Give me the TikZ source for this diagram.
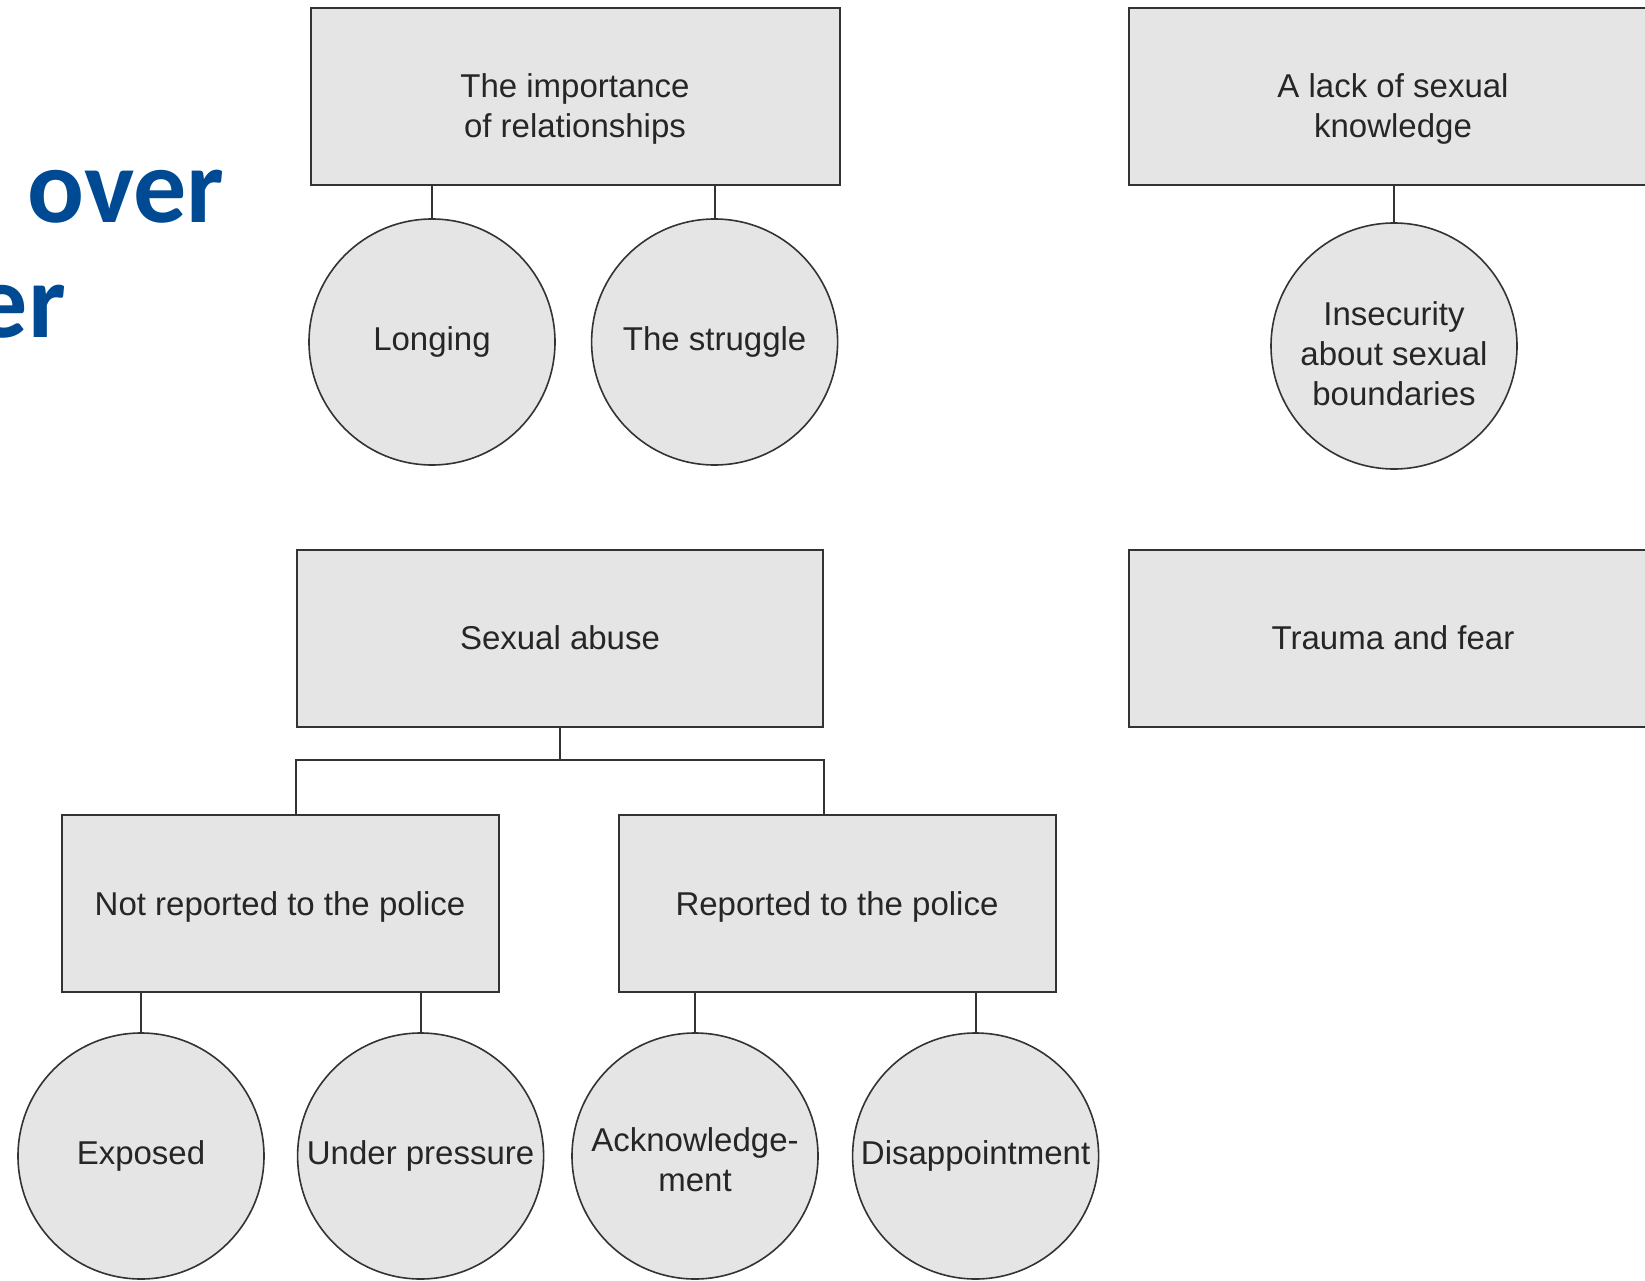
\documentclass[tikz,border=0pt]{standalone}
\usepackage{fontspec}
\setmainfont{Liberation Sans}
\newfontfamily\headfont{Carlito}
\usetikzlibrary{positioning}
\definecolor{headblue}{RGB}{0,74,147}
\definecolor{boxgray}{RGB}{229,229,229}

\begin{document}
\begin{tikzpicture}[x=1pt, y=-1pt,
    theme/.style={rectangle, draw=black!80, line width=2pt, fill=boxgray, minimum height=177pt, align=center, text=black!85, font=\fontsize{33}{40}\selectfont},
    bubble/.style={circle, draw=black!80, line width=1.6pt, fill=boxgray, minimum size=246pt, inner sep=0pt, align=center, text=black!85, font=\fontsize{33}{40}\selectfont},
    head/.style={text=headblue, inner sep=0pt, font=\headfont\bfseries\fontsize{106}{127}\selectfont},
    link/.style={draw=black!80, line width=2pt}]

\useasboundingbox (0,0) rectangle (1645,1281);
\clip (0,0) rectangle (1645,1281);

% cut-off heading on the left
\node[head, anchor=base west] (headA) at (27,223) {over};
\node[head, anchor=base east] (headB) at (66,337) {er};

% top row
\node[theme, minimum width=529pt, text height=87pt] (rel) at (575,97) {The importance\\of relationships};
\node[bubble] (longing) at (432,342) {Longing};
\node[bubble, right=35pt of longing] (struggle) {The struggle};

    \draw[link] (rel.south -| longing.north) -- (longing.north);
    \draw[link] (rel.south -| struggle.north) -- (struggle.north);

\node[theme, minimum width=528pt, text height=87pt] (know) at (1393,97) {A lack of sexual\\knowledge};
\node[bubble, text height=119pt] (insec) at (1394,346) {Insecurity\\about sexual\\boundaries};

    \draw[link] (know.south -| insec.north) -- (insec.north);

% lower half
\node[theme, minimum width=526pt] (abuse) at (560,638) {Sexual abuse};
\node[theme, minimum width=528pt] (trauma) at (1393,638) {Trauma and fear};

\node[theme, minimum width=437pt, text height=32pt] (notrep) at (280,903) {Not reported to the police};
\node[theme, minimum width=437pt, text height=32pt] (rep) at (837,903) {Reported to the police};

    \draw[link] (abuse.south) -- ++(0,32) -| (notrep.north -| abuse.west);
    \draw[link] (abuse.south) ++(0,32) -| (rep.north -| abuse.east);

\node[bubble] (exposed) at (141,1156) {Exposed};
\node[bubble, right=32pt of exposed] (pressure) {Under pressure};
\node[bubble, text height=72pt] (ack) at (695,1156) {Acknowledge-\\ment};
\node[bubble, right=33pt of ack] (disap) {Disappointment};

    \draw[link] (notrep.south -| exposed.north) -- (exposed.north);
    \draw[link] (notrep.south -| pressure.north) -- (pressure.north);
    \draw[link] (rep.south -| ack.north) -- (ack.north);
    \draw[link] (rep.south -| disap.north) -- (disap.north);

\end{tikzpicture}
\end{document}
